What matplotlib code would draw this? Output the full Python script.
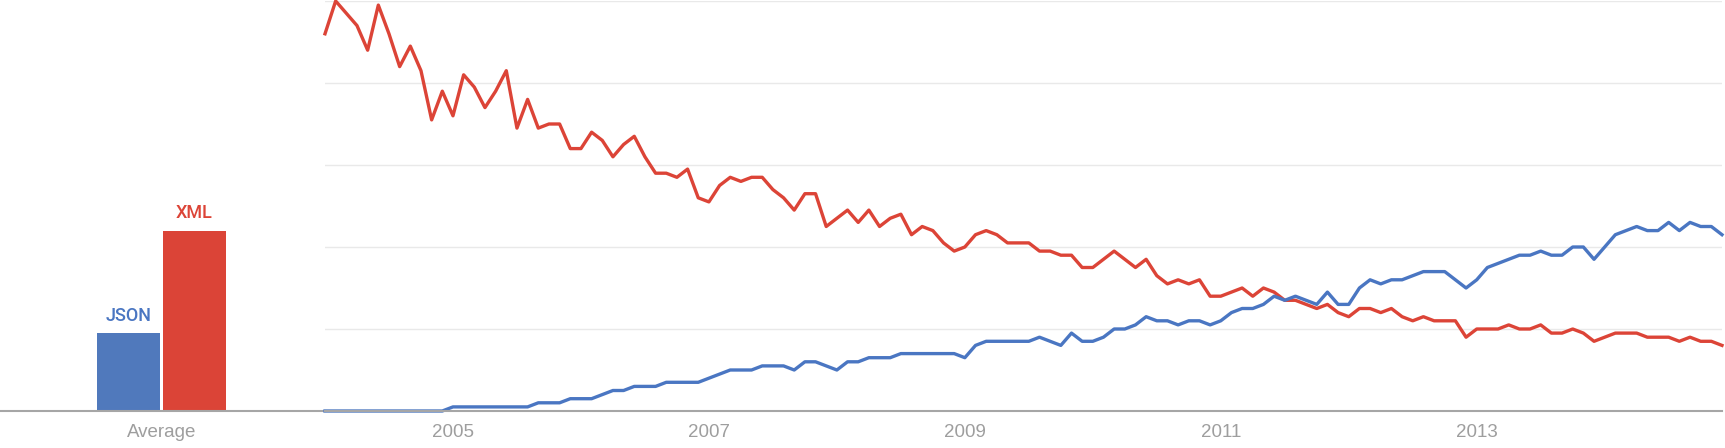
import numpy as np
import matplotlib
matplotlib.use("Agg")
import matplotlib.pyplot as plt

plt.rcParams['font.family'] = ['Liberation Sans', 'DejaVu Sans']

# monthly interest, Jan 2004 .. Dec 2014
xml = [92, 100, 97, 94, 88, 99, 92, 84, 89, 83,
       71, 78, 72, 82, 79, 74, 78, 83, 69, 76,
       69, 70, 70, 64, 64, 68, 66, 62, 65, 67,
       62, 58, 58, 57, 59, 52, 51, 55, 57, 56,
       57, 57, 54, 52, 49, 53, 53, 45, 47, 49,
       46, 49, 45, 47, 48, 43, 45, 44, 41, 39,
       40, 43, 44, 43, 41, 41, 41, 39, 39, 38,
       38, 35, 35, 37, 39, 37, 35, 37, 33, 31,
       32, 31, 32, 28, 28, 29, 30, 28, 30, 29,
       27, 27, 26, 25, 26, 24, 23, 25, 25, 24,
       25, 23, 22, 23, 22, 22, 22, 18, 20, 20,
       20, 21, 20, 20, 21, 19, 19, 20, 19, 17,
       18, 19, 19, 19, 18, 18, 18, 17, 18, 17,
       17, 16]
json = [0, 0, 0, 0, 0, 0, 0, 0, 0, 0,
        0, 0, 1, 1, 1, 1, 1, 1, 1, 1,
        2, 2, 2, 3, 3, 3, 4, 5, 5, 6,
        6, 6, 7, 7, 7, 7, 8, 9, 10, 10,
        10, 11, 11, 11, 10, 12, 12, 11, 10, 12,
        12, 13, 13, 13, 14, 14, 14, 14, 14, 14,
        13, 16, 17, 17, 17, 17, 17, 18, 17, 16,
        19, 17, 17, 18, 20, 20, 21, 23, 22, 22,
        21, 22, 22, 21, 22, 24, 25, 25, 26, 28,
        27, 28, 27, 26, 29, 26, 26, 30, 32, 31,
        32, 32, 33, 34, 34, 34, 32, 30, 32, 35,
        36, 37, 38, 38, 39, 38, 38, 40, 40, 37,
        40, 43, 44, 45, 44, 44, 46, 44, 46, 45,
        45, 43]

terms = ["JSON", "XML"]
averages = [19, 44]
years = ["2005", "2007", "2009", "2011", "2013"]
year_months = [12, 36, 60, 84, 108]

blue = "#4a76c2"
red = "#dc4437"
bar_blue = "#5079bc"
bar_red = "#db4437"
label_grey = "#9e9e9e"

W, H = 1725, 448
fig = plt.figure(figsize=(W / 100, H / 100), dpi=100)

bottom = 37 / H
height = 410 / H
split = 325 / W

# --- average bars ---
axb = fig.add_axes([0, bottom, split, height])
pos = np.arange(len(terms))
axb.bar(pos, averages, width=0.955, color=[bar_blue, bar_red])
for p, v, t, c in zip(pos, averages, terms, [blue, red]):
    axb.annotate(t, (p, v), xytext=(0, 6), textcoords="offset points",
                 ha="center", va="bottom", color=c, fontsize=13,
                 family=["Roboto", "DejaVu Sans"], fontweight="medium")
axb.set_xlim(-1.94, 2.98)
axb.set_ylim(0, 100)
axb.set_xticks([0.5])
axb.set_xticklabels(["Average"])
axb.set_yticks([])

# --- trend lines ---
ax = fig.add_axes([split, bottom, 1397 / W, height])
months = np.arange(len(xml))
ax.plot(months, xml, color=red, lw=2.4, clip_on=False, solid_joinstyle="round")
ax.plot(months, json, color=blue, lw=2.4, clip_on=False, solid_joinstyle="round")
ax.set_xlim(0, len(xml) - 1)
ax.set_ylim(0, 100)
ax.set_yticks([20, 40, 60, 80, 100])
ax.yaxis.grid(True, color="#e9e9e9", lw=1)
ax.set_axisbelow(True)
ax.set_yticklabels([])
ax.tick_params(axis="y", length=0)
ax.set_xticks(year_months)
ax.set_xticklabels(years)

for a in (axb, ax):
    for s in ("top", "left", "right"):
        a.spines[s].set_visible(False)
    a.spines["bottom"].set_color("#a6a6a6")
    a.spines["bottom"].set_linewidth(1.5)
    a.tick_params(axis="x", length=0, pad=9, labelsize=13.5, labelcolor=label_grey)
    a.set_facecolor("none")

fig.savefig("out.png", dpi=100)
